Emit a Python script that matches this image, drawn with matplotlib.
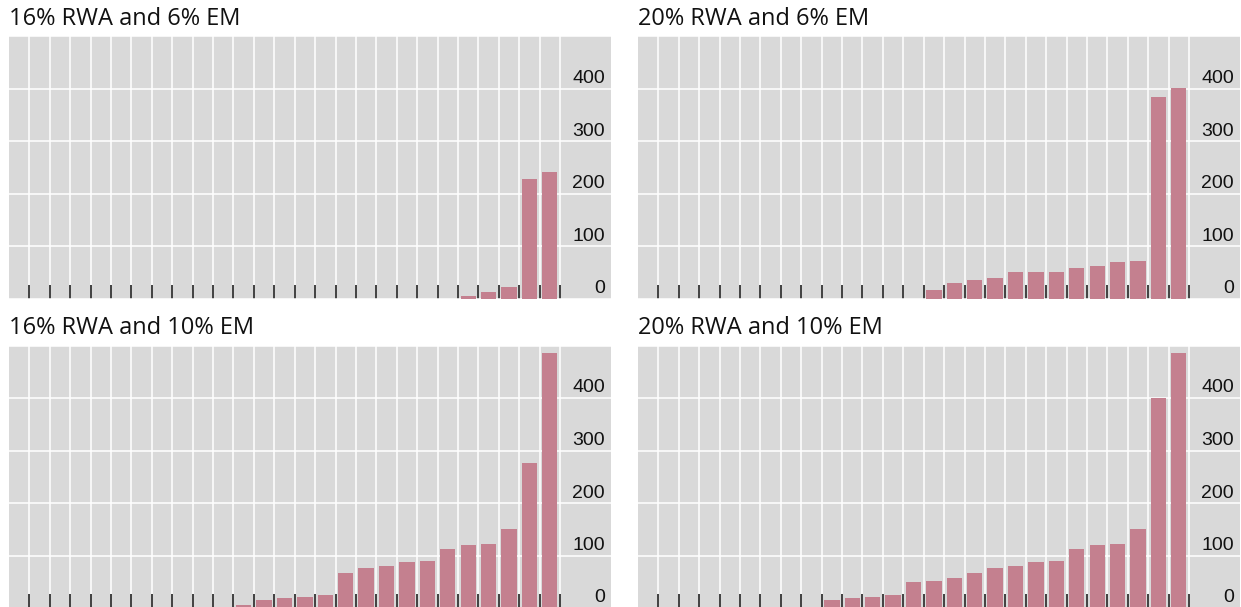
import matplotlib.pyplot as plt
from matplotlib.transforms import offset_copy

# bins 0..25 (one bar per gap between ticks)
bins = list(range(26))

rwa16_em6 = [0] * 21 + [6, 13, 23, 228, 241]
rwa20_em6 = [0] * 13 + [16, 30, 36, 39, 51, 51, 51, 58, 62, 70, 72, 384, 401]
rwa16_em10 = [0] * 10 + [5, 15, 19, 21, 25, 67, 76, 80, 88, 90, 113, 120, 122, 151, 276, 485]
rwa20_em10 = [0] * 8 + [15, 19, 21, 25, 50, 52, 57, 67, 76, 80, 88, 90, 113, 120, 122, 151, 400, 485]

titles = ['16% RWA and 6% EM', '20% RWA and 6% EM',
          '16% RWA and 10% EM', '20% RWA and 10% EM']
series = [rwa16_em6, rwa20_em6, rwa16_em10, rwa20_em10]
y_ticks = [0, 100, 200, 300, 400]

W, H, DPI = 1241, 607, 100
BG = '#D9D9D9'
BAR = '#C4808F'

fig = plt.figure(figsize=(W / DPI, H / DPI), dpi=DPI)
fig.patch.set_facecolor('white')

# panel boxes in pixels: left, zero line
panels = [(9, 298.7), (638, 298.7), (9, 608), (638, 608)]
ax_w, ax_h = 602, 262.5

for (left, zero_y), title, values in zip(panels, titles, series):
    ax = fig.add_axes([left / W, (H - zero_y) / H, ax_w / W, ax_h / H])
    ax.set_facecolor(BG)
    ax.bar([b + 0.5 for b in bins], values, width=0.75, color=BAR, zorder=2)
    ax.set_xlim(-1, 28.5)
    ax.set_ylim(0, 500)
    ax.set_xticks(range(27))
    ax.set_yticks([0, 100, 200, 300, 400, 500])
    ax.grid(True, color='white', linewidth=1.1, zorder=0)
    ax.set_axisbelow(True)
    ax.tick_params(axis='x', direction='in', length=10, width=1.2,
                   color='#222222', labelbottom=False)
    ax.tick_params(axis='y', length=0, labelleft=False)
    for s in ax.spines.values():
        s.set_visible(False)
    trans = offset_copy(ax.get_yaxis_transform(), fig=fig, x=-6, y=5.5, units='dots')
    for t in y_ticks:
        ax.text(1.0, t, str(t), transform=trans, ha='right', va='baseline',
                fontsize=14, family='Liberation Sans', color='#111111')
    ax.text(left / W, (H - zero_y + ax_h + 11) / H, title, transform=fig.transFigure,
            ha='left', va='baseline', fontsize=17, family='Open Sans', color='#111111')

fig.savefig('out.png', dpi=DPI)
